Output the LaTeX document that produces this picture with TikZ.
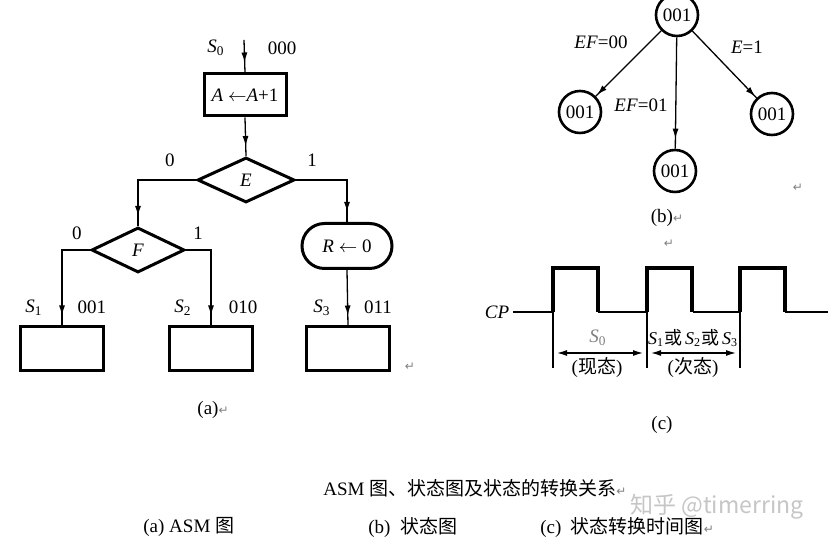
\documentclass[tikz,border=0pt]{standalone}
\usepackage{fontspec}
\setmainfont{Liberation Serif}
\newfontfamily\cjk{Noto Sans CJK SC}
\newfontfamily\symfont{DejaVu Sans}
\usetikzlibrary{shapes.geometric,shapes.misc,arrows.meta,decorations.markings}
\newcommand{\Sv}[1]{\textit{S}\textsubscript{#1}}
\newcommand{\ret}{{\symfont\color{gray}\fontsize{6}{7}\selectfont ↵}}

\begin{document}
\begin{tikzpicture}[
    x=0.5pt, y=-0.5pt,
    every node/.style={inner sep=0pt, font=\fontsize{9.5}{11}\selectfont},
    flow/.style={line width=0.65pt},
    heavy/.style={draw, line width=1.5pt},
    tip/.style={postaction={decorate}, decoration={markings,
        mark=at position -#1 with {\arrow{Latex[length=5pt,width=3pt]}}}},
    tip/.default=5pt,
    dim/.style={flow, {Latex[length=5pt,width=3pt]}-{Latex[length=5pt,width=3pt]},
        shorten <=2pt, shorten >=2pt},
    opbox/.style={heavy, minimum width=41pt, minimum height=21pt},
    slot/.style={heavy, minimum width=41.5pt, minimum height=22pt},
    decision/.style={heavy, diamond, minimum width=#1, minimum height=22.5pt},
    term/.style={heavy, rounded rectangle, minimum width=45pt, minimum height=22.5pt},
    circ/.style={circle, draw, line width=1.3pt, minimum size=21pt},
    wave/.style={line width=1.2pt},
    caption/.style={anchor=west, font=\fontsize{9.5}{11}\selectfont}
]
    \fill[white] (0,0) rectangle (832,544);
    \useasboundingbox (0,0) rectangle (832,544);

    % (a) ASM chart
    \coordinate (in0) at (244,40);
    \node[opbox] (inc) at (245,95) {\textit{A} $\leftarrow$\textit{A}+1};
    \node[decision=48.5pt] (dE) at (246,180) {\textit{E}};
    \node[decision=46.5pt] (dF) at (138,250) {\textit{F}};
    \node[term] (rst) at (347,246) {\textit{R} $\leftarrow$ 0};
    \node[slot] (s1) at (62,349) {};
    \node[slot] (s2) at (211,349) {};
    \node[slot] (s3) at (348,349) {};

    \draw[flow, tip] (in0) -- (inc.north);
    \draw[flow, tip] (inc.south) -- (dE.north);
    \draw[flow, tip] (dE.west) -| (dF.north);
    \draw[flow, tip] (dE.east) -| (rst.north);
    \draw[flow, tip] (dF.west) -| (s1.north);
    \draw[flow, tip] (dF.east) -| (s2.north);
    \draw[flow, tip] (rst.south) -- (s3.north);

    \node (l0) at (216,48) {\Sv{0}};
    \node (c0) at (282,48) {000};
    \node (l1) at (34,308) {\Sv{1}};
    \node (c1) at (92,307) {001};
    \node (l2) at (183,308) {\Sv{2}};
    \node (c2) at (243,307) {010};
    \node (l3) at (322,308) {\Sv{3}};
    \node (c3) at (378,307) {011};
    \node (e0) at (170,160) {0};
    \node (e1) at (312,160) {1};
    \node (f0) at (77,233) {0};
    \node (f1) at (198,233) {1};
    \node (ra) at (410,367) {\ret};
    \node (capa) at (213,410) {(a)\ret};

    % (b) state diagram
    \node[circ] (b0) at (677,15) {001};
    \node[circ] (b1) at (580,112) {001};
    \node[circ] (b2) at (675,171) {001};
    \node[circ] (b3) at (772,114) {001};
    \draw[flow, tip=1pt] (b0) -- (b1);
    \draw[flow, tip] (b0) -- (b2);
    \draw[flow, tip=1pt] (b0) -- (b3);
    \node (ef00) at (601,42) {\textit{EF}=00};
    \node (ef01) at (641,105) {\textit{EF}=01};
    \node (e1b) at (747,47) {\textit{E}=1};
    \node (rb) at (798,188) {\ret};
    \node (capb) at (667,218) {(b)\ret};
    \node (rb2) at (669,244) {\ret};

    % (c) timing
    \node (cp) at (497,312) {\textit{CP}};
    \draw[wave] (513,312) -- (553,312) (598,312) -- (647,312)
        (693,312) -- (740,312) (785,312) -- (828,312);
    \foreach \x in {553,647,740}
        \draw[wave, line width=1.6pt] (\x,312) -- (\x,268) -- (\x+45,268) -- (\x+45,312);
    \foreach \x in {553,647,740}
        \draw[flow] (\x,312) -- (\x,368);
    \coordinate (t0) at (553,353);
    \coordinate (t1) at (647,353);
    \coordinate (t2) at (740,353);
    \draw[dim] (t0) -- (t1);
    \draw[dim] (t1) -- (t2);
    \node[text=gray] (now) at (598,338) {\Sv{0}};
    \node[font=\fontsize{9}{11}\selectfont] (next) at (693,338) {\Sv{1}{\cjk 或}\,\Sv{2}{\cjk 或}\,\Sv{3}};
    \node (nowt) at (597,368) {({\cjk 现态})};
    \node (nextt) at (693,368) {({\cjk 次态})};
    \node (capc) at (662,425) {(c)};

    % captions
    \node[caption] (cap) at (323,488) {ASM {\cjk 图、状态图及状态的转换关系}\ret};
    \node[caption] (capA) at (143,527) {(a) ASM {\cjk 图}};
    \node[caption] (capB) at (368,528) {(b)\enspace{\cjk 状态图}};
    \node[caption] (capC) at (540,528) {(c)\enspace{\cjk 状态转换时间图}\ret};
    \node[anchor=west, text=gray!45, font=\cjk\fontsize{11.5}{13}\selectfont] (mark) at (630,507) {知乎 @timerring};
\end{tikzpicture}
\end{document}
